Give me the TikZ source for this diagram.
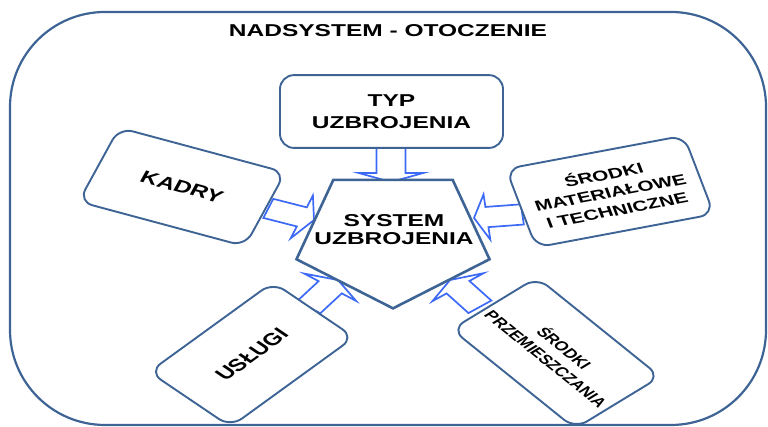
\documentclass[tikz,border=0pt]{standalone}
\usepackage{fontspec}
\setmainfont{Liberation Sans}
\usepackage{tikz}
\usetikzlibrary{shapes.geometric}

\definecolor{edgeblue}{RGB}{62,100,150}
\definecolor{arrowblue}{RGB}{60,105,245}

\begin{document}
\begin{tikzpicture}[
    x=1pt, y=1pt, yscale=0.7, transform shape,
    cmpt/.style={draw=edgeblue, line width=1.9pt, fill=white, rounded corners=14pt, align=center, inner sep=0pt, font=\fontsize{24.5}{28}\selectfont\bfseries, minimum width=178pt, minimum height=113pt},
    env/.style={draw=edgeblue, line width=2.2pt, rounded corners=95pt, minimum width=756pt, minimum height=590pt},
    core/.style={draw=edgeblue, line width=2.6pt, fill=white, regular polygon, regular polygon sides=5, shape border rotate=180, minimum size=203pt, inner sep=0pt},
    txt/.style={align=center, font=\fontsize{24.5}{25.7}\selectfont\bfseries},
    blockarrow/.pic={\draw[draw=arrowblue, fill=white, line width=1.7pt, line join=miter] (0,0) -- (-13,32.5) -- (-13,14.5) -- (-48.6,14.5) -- (-48.6,-14.5) -- (-13,-14.5) -- (-13,-32.5) -- cycle;}]

    \useasboundingbox (0,0) rectangle (768,-608.57);

    \node[env] (env) at (388,-312.1) {};
    \node[txt] (title) at (388,-44.3) {NADSYSTEM - OTOCZENIE};

    %%% Arrows into the system
    \coordinate (tip-typ) at (391,-260);
    \coordinate (tip-kadry) at (314,-314.3);
    \coordinate (tip-mat) at (474,-311.4);
    \coordinate (tip-uslugi) at (338,-400);
    \coordinate (tip-prz) at (450,-400);

    \pic[rotate=-90] at (tip-typ) {blockarrow};
    \pic[rotate=-20] at (tip-kadry) {blockarrow};
    \pic[rotate=186] at (tip-mat) {blockarrow};
    \pic[rotate=53] at (tip-uslugi) {blockarrow};
    \pic[rotate=128] at (tip-prz) {blockarrow};

    %%% Components
    \node[cmpt, minimum width=223pt, minimum height=104pt, font=\fontsize{24.5}{31}\selectfont\bfseries] (typ) at (391.5,-159.3) {TYP\\UZBROJENIA};
    \node[cmpt, rotate=-21] (kadry) at (182,-267.1) {KADRY};
    \node[cmpt, rotate=15, minimum width=184pt, minimum height=116pt, font=\fontsize{20.8}{26}\selectfont\bfseries] (srodki-mat) at (610,-273.6) {ŚRODKI\\MATERIAŁOWE\\I TECHNICZNE};
    \node[cmpt, rotate=46] (uslugi) at (251.7,-506.5) {USŁUGI};
    \node[cmpt, rotate=-49, minimum width=188pt, font=\fontsize{18.5}{24}\selectfont\bfseries] (srodki-prz) at (556,-504.3) {ŚRODKI\\PRZEMIESZCZANIA};

    \node[core] (system) at (393,-339) {};
    \node[txt] (system-txt) at (394,-328.6) {SYSTEM\\UZBROJENIA};

\end{tikzpicture}
\end{document}
